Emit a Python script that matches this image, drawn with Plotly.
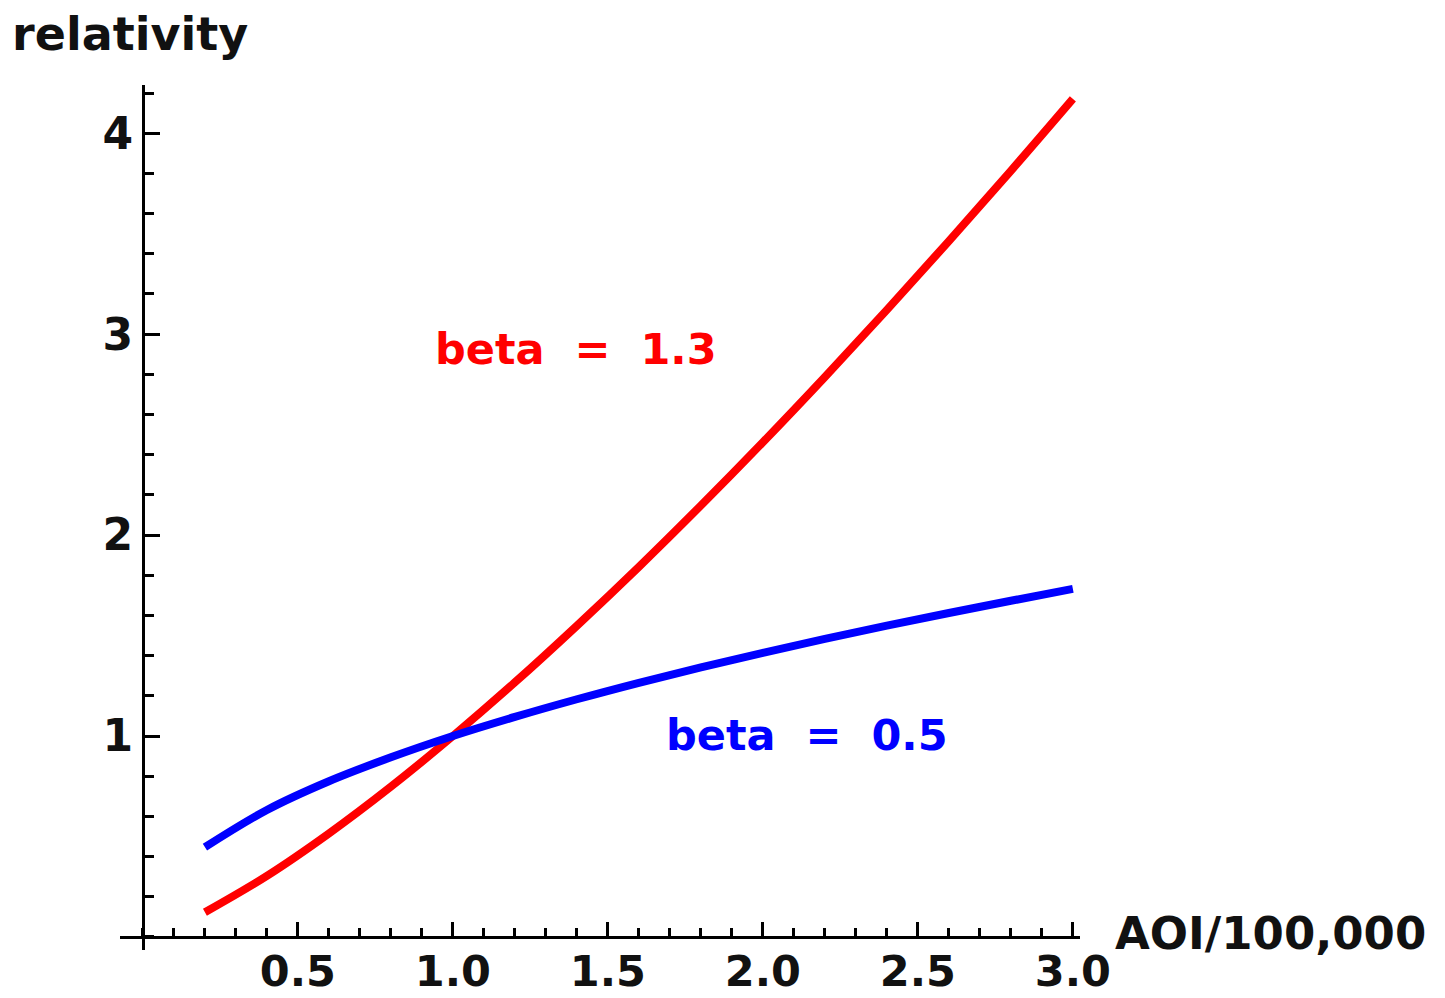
import plotly.graph_objects as go

# Data
aoi = [0.2, 0.4, 0.6, 0.8, 1.0, 1.2, 1.4, 1.6, 1.8, 2.0, 2.2, 2.4, 2.6, 2.8, 3.0]
rel_beta_13 = [0.123, 0.304, 0.515, 0.748, 1.0, 1.267, 1.549, 1.842, 2.147, 2.462,
               2.787, 3.121, 3.463, 3.813, 4.171]
rel_beta_05 = [0.447, 0.632, 0.775, 0.894, 1.0, 1.095, 1.183, 1.265, 1.342, 1.414,
               1.483, 1.549, 1.612, 1.673, 1.732]
x_ticks = [0.5, 1.0, 1.5, 2.0, 2.5, 3.0]
x_tick_text = ["0.5", "1.0", "1.5", "2.0", "2.5", "3.0"]
y_ticks = [1, 2, 3, 4]
y_tick_text = ["1", "2", "3", "4"]

FONT = "DejaVu Sans"

fig = go.Figure()
fig.add_trace(go.Scatter(x=aoi, y=rel_beta_13, mode="lines",
                         line=dict(color="#ff0000", width=8, shape="spline"),
                         showlegend=False, hoverinfo="skip"))
fig.add_trace(go.Scatter(x=aoi, y=rel_beta_05, mode="lines",
                         line=dict(color="#0000ff", width=8, shape="spline"),
                         showlegend=False, hoverinfo="skip"))

L, R, T, B = 120, 365, 85, 48
W, H = 1445, 998
plot_w = W - L - R
plot_h = H - T - B
x_range = [-0.074, 3.023]
y_range = [-0.065, 4.24]
x0_frac = (0 - x_range[0]) / (x_range[1] - x_range[0])
y0_frac = (0 - y_range[0]) / (y_range[1] - y_range[0])

fig.update_layout(
    width=W, height=H,
    margin=dict(l=L, r=R, t=T, b=B, autoexpand=False),
    paper_bgcolor="white", plot_bgcolor="white",
    xaxis=dict(range=x_range, showgrid=False, zeroline=False,
               showline=True, linecolor="black", linewidth=3,
               anchor="free", position=y0_frac,
               ticks="inside", ticklen=14, tickwidth=3, tickcolor="black",
               tickmode="array", tickvals=x_ticks, ticktext=x_tick_text,
               ticklabelstandoff=-5,
               tickfont=dict(family=FONT, size=43, color="#111", weight="bold"),
               minor=dict(ticks="inside", dtick=0.1, tick0=0, ticklen=8,
                          tickwidth=3, tickcolor="black", showgrid=False),
               automargin=False),
    yaxis=dict(range=y_range, showgrid=False, zeroline=False,
               showline=True, linecolor="black", linewidth=3,
               anchor="free", position=x0_frac,
               ticks="inside", ticklen=15, tickwidth=3, tickcolor="black",
               tickmode="array", tickvals=y_ticks, ticktext=y_tick_text,
               tickfont=dict(family=FONT, size=44, color="#111", weight="bold"),
               minor=dict(ticks="inside", dtick=0.2, tick0=0, ticklen=9,
                          tickwidth=3, tickcolor="black", showgrid=False),
               automargin=False),
)

def px_to_paper_x(px):
    return (px - L) / plot_w

def px_to_paper_y(py):
    return (H - B - py) / plot_h

fig.add_annotation(x=px_to_paper_x(10), y=px_to_paper_y(34), xref="paper", yref="paper",
                   text="relativity", showarrow=False, xanchor="left", yanchor="middle",
                   font=dict(family=FONT, size=46, color="#111", weight="bold"))
fig.add_annotation(x=px_to_paper_x(1113), y=px_to_paper_y(933), xref="paper", yref="paper",
                   text="AOI/100,000", showarrow=False, xanchor="left", yanchor="middle",
                   font=dict(family=FONT, size=45, color="#111", weight="bold"))
fig.add_annotation(x=1.397, y=2.925, xref="x", yref="y", text="beta  =  1.3",
                   showarrow=False, xanchor="center", yanchor="middle",
                   font=dict(family=FONT, size=43, color="#ff0000", weight="bold"))
fig.add_annotation(x=2.142, y=1.005, xref="x", yref="y", text="beta  =  0.5",
                   showarrow=False, xanchor="center", yanchor="middle",
                   font=dict(family=FONT, size=43, color="#0000ff", weight="bold"))

fig.write_html("out.html")
